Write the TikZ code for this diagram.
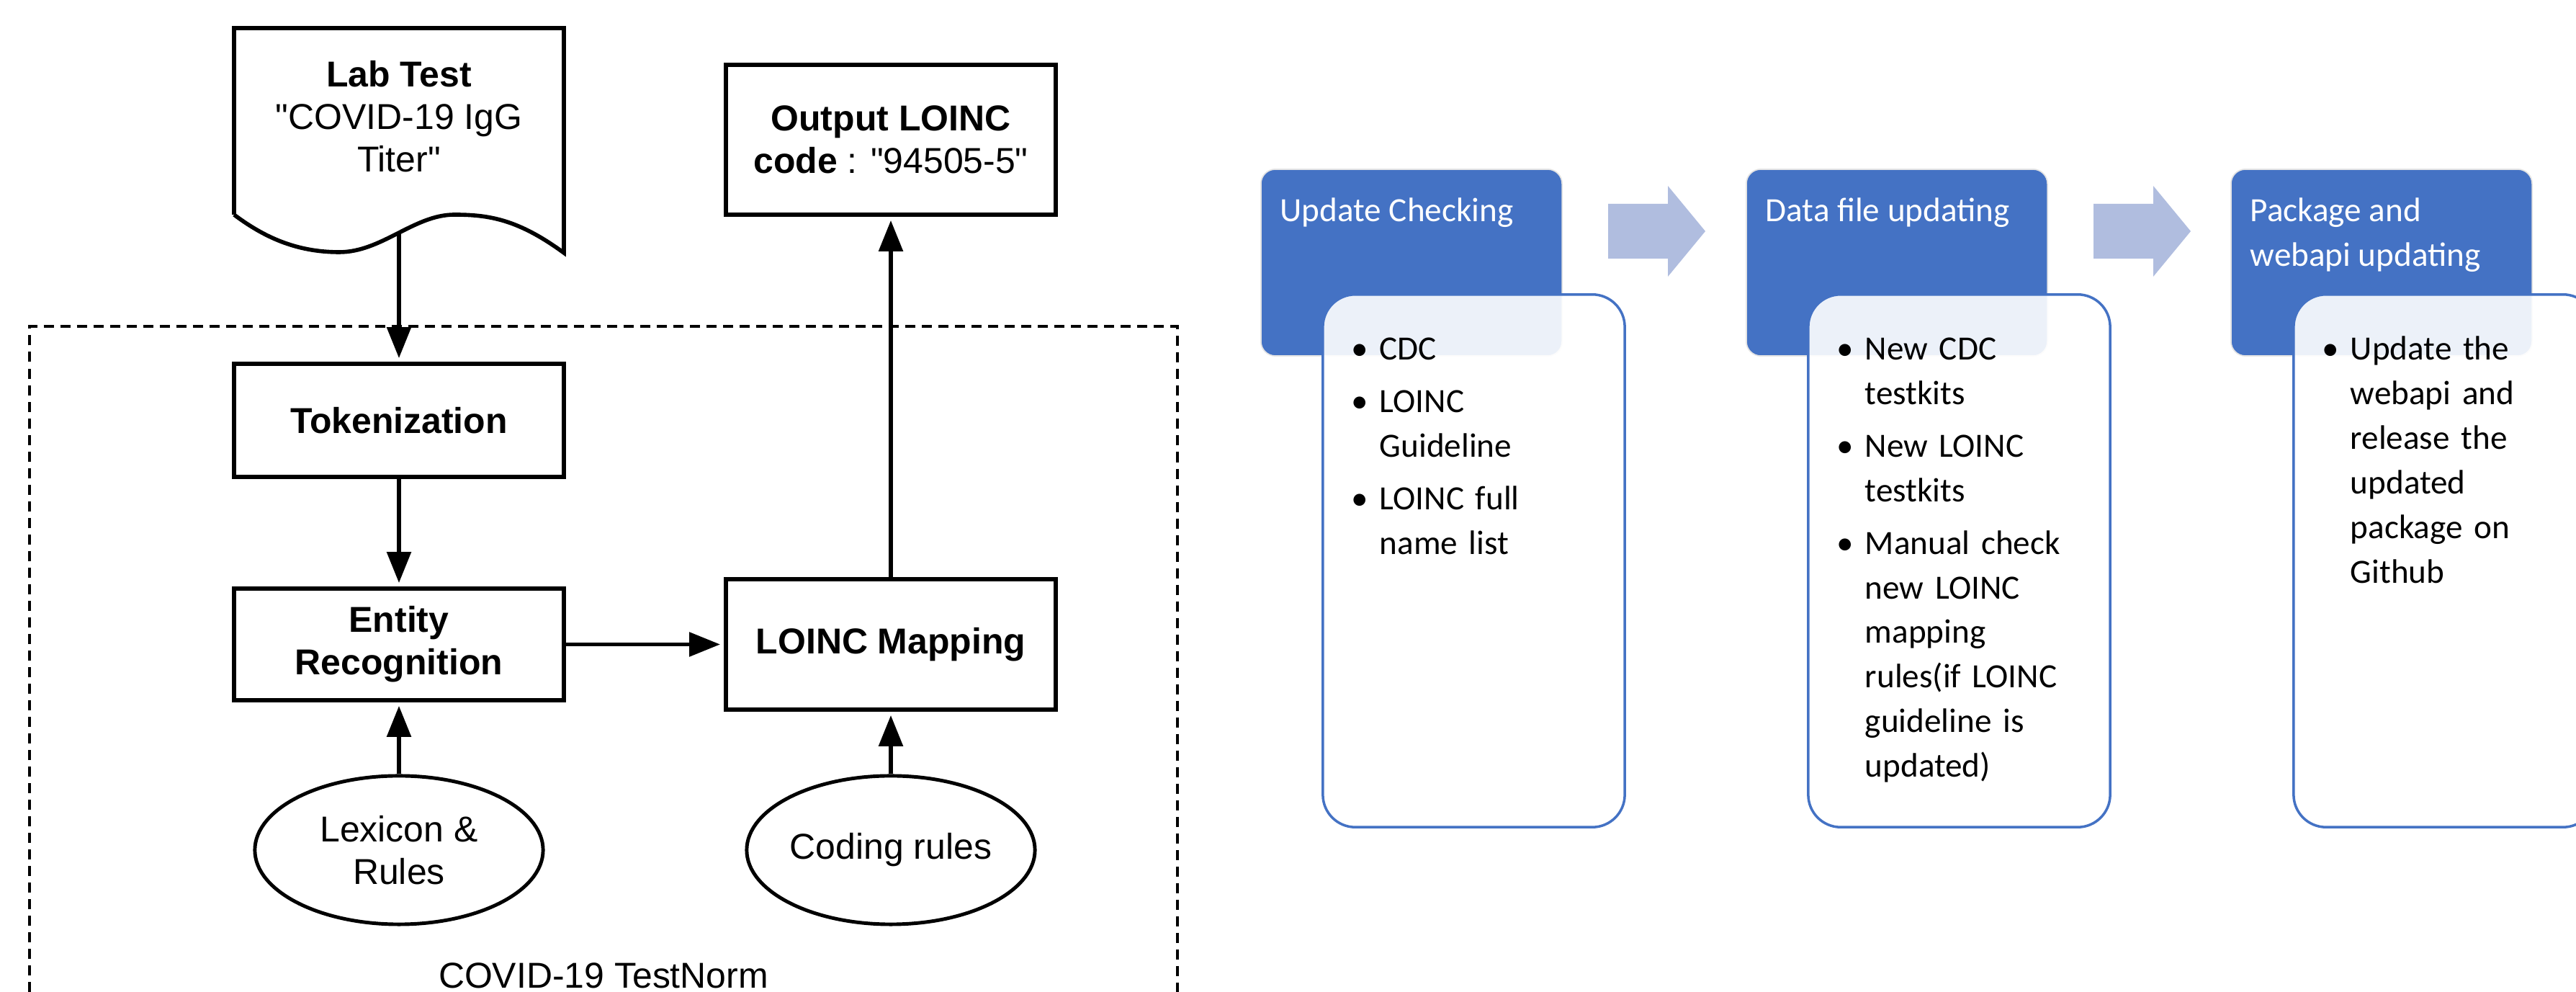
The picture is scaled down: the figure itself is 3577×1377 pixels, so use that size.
\documentclass[tikz,border=0pt]{standalone}
\usepackage{fontspec}
\newfontfamily\chartfont{Liberation Sans}
\newfontfamily\smartfont{Carlito}
\usepackage{enumitem}
\usepackage{tikz}
\usetikzlibrary{arrows.meta,shapes.geometric}

\definecolor{accent}{RGB}{68,114,196}
\definecolor{flowblue}{RGB}{176,189,223}
\definecolor{stageedge}{RGB}{228,228,228}

\setlist[itemize]{label=\textbullet, leftmargin=0.30cm, labelsep=0.16cm, itemsep=0.11cm, topsep=0pt, parsep=0pt, partopsep=0pt}

\begin{document}
\begin{tikzpicture}[
    x=0.01cm, y=-0.01cm,
    every node/.style={font=\chartfont\fontsize{14.2}{16.8}\selectfont},
    box/.style={rectangle, draw, line width=1.6pt, minimum width=4.58cm, align=center, inner sep=0pt},
    store/.style={ellipse, draw, line width=1.4pt, minimum width=4cm, minimum height=2.06cm, align=center, inner sep=0pt},
    arrow/.style={line width=1.6pt, -{Triangle[length=0.43cm, width=0.33cm]}, shorten >=0.05cm},
    stage/.style={rectangle, rounded corners=0.2cm, fill=accent, draw=stageedge, line width=0.5pt, minimum width=4.18cm, minimum height=2.59cm},
    detail/.style={rectangle, rounded corners=0.45cm, draw=accent, line width=1pt, fill=white, fill opacity=0.9, minimum width=4.19cm, minimum height=7.39cm},
    stagetext/.style={font=\smartfont\fontsize{13.4}{17.6}\selectfont, text=white, align=left, anchor=north west, inner sep=0pt},
    itemtext/.style={font=\smartfont\fontsize{13.4}{17.6}\selectfont, text width=3.05cm, align=left, anchor=north west, inner sep=0pt}
]
\useasboundingbox (0,0) rectangle (3577,1377);

% TestNorm pipeline
\node[align=center, inner sep=0pt] (labtest) at (554,162) {\textbf{Lab Test}\\"COVID-19 IgG\\Titer"};
\coordinate (labbottom) at (554,324);
\draw[line width=1.6pt] (325,298) -- (325,39) -- (783,39) -- (783,351)
    .. controls (720,305) and (680,298) .. (631,298)
    .. controls (575,298) and (530,350) .. (471,350)
    .. controls (410,350) and (365,328) .. (325,298);

\node[box, minimum height=2.08cm] (output) at (1237,194) {\textbf{Output LOINC}\\\textbf{code} : "94505-5"};
\node[box, minimum height=1.57cm] (token) at (554,583.5) {\textbf{Tokenization}};
\node[box, minimum height=1.55cm] (entity) at (554,894.5) {\textbf{Entity}\\\textbf{Recognition}};
\node[box, minimum height=1.81cm] (mapping) at (1237,894.5) {\textbf{LOINC Mapping}};
\node[store] (lexicon) at (554,1180) {Lexicon \&\\Rules};
\node[store] (coding) at (1237,1180) {Coding rules};

\draw[arrow] (labbottom) -- (token);
\draw[arrow] (token) -- (entity);
\draw[arrow] (lexicon) -- (entity);
\draw[arrow] (entity) -- (mapping);
\draw[arrow] (coding) -- (mapping);
\draw[arrow] (mapping) -- (output);

\draw[line width=1.4pt, dash pattern=on 0.14cm off 0.09cm] (41,1377) -- (41,453) -- (1635,453) -- (1635,1377);
\node[anchor=base] (testnorm) at (838,1372) {COVID-19 TestNorm};

% update process
\node[stage] (check) at (1960,364.5) {};
\node[stage] (datafile) at (2634,364.5) {};
\node[stage] (package) at (3307,364.5) {};

\node[stagetext] (checktitle) at ([shift={(27,40)}]check.north west) {Update Checking};
\node[stagetext] (datatitle) at ([shift={(27,40)}]datafile.north west) {Data file updating};
\node[stagetext] (packagetitle) at ([shift={(27,40)}]package.north west) {Package and\\webapi updating};

\node[detail] (checklist) at (2046.5,778.5) {};
\node[detail] (datalist) at (2720.5,778.5) {};
\node[detail] (packagelist) at (3394.5,778.5) {};

\node[itemtext] (checkitems) at ([shift={(50,30)}]checklist.north west) {%
  \begin{itemize}
    \item CDC
    \item LOINC Guideline
    \item LOINC full name list
  \end{itemize}};
\node[itemtext] (dataitems) at ([shift={(50,30)}]datalist.north west) {%
  \begin{itemize}
    \item New CDC testkits
    \item New LOINC testkits
    \item Manual check new LOINC mapping rules(if LOINC guideline is updated)
  \end{itemize}};
\node[itemtext] (packageitems) at ([shift={(50,30)}]packagelist.north west) {%
  \begin{itemize}
    \item Update the webapi and release the updated package on Github
  \end{itemize}};

\fill[flowblue] (2233,283) -- (2316,283) -- (2316,258) -- (2368,321) -- (2316,384) -- (2316,359) -- (2233,359) -- cycle;
\fill[flowblue] (2907,283) -- (2990,283) -- (2990,258) -- (3042,321) -- (2990,384) -- (2990,359) -- (2907,359) -- cycle;

\end{tikzpicture}
\end{document}
